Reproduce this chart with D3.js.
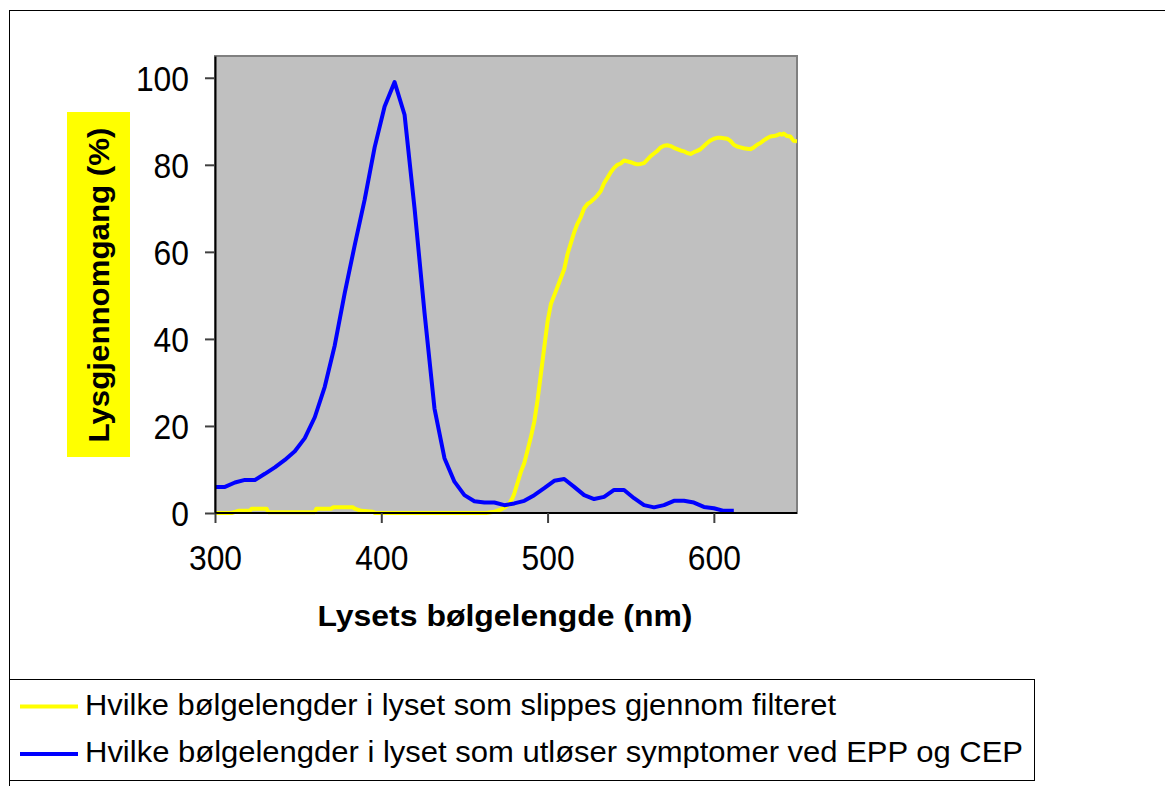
<!DOCTYPE html>
<html>
<head>
<meta charset="utf-8">
<script src="https://cdn.jsdelivr.net/npm/d3@7"></script>
<style>
  body { margin: 0; background: #fff; }
  svg { display: block; font-family: "Liberation Sans", Arial, sans-serif; }
</style>
</head>
<body>
<svg class="chart" width="1165" height="786"></svg>
<script>
// wavelengths (nm) and transmission (%)
const blueWl = [300, 306, 312, 318, 324, 330, 336, 342, 348, 354, 360, 366, 372, 378, 384, 390, 396, 402, 408, 414,
  420, 426, 432, 438, 444, 450, 456, 462, 468, 474, 480, 486, 492, 498, 504, 510, 516, 522, 528, 534,
  540, 546, 552, 558, 564, 570, 576, 582, 588, 594, 600, 606, 612]
const blueVal = [6.0, 6.0, 7.0, 7.6, 7.6, 9.0, 10.5, 12.2, 14.2, 17.2, 22.0, 29.0, 38.5, 50.5, 61.5, 72.0, 84.0, 93.4, 99.0, 91.5,
  70.0, 46.0, 24.0, 12.6, 7.2, 4.1, 2.7, 2.4, 2.4, 1.8, 2.2, 2.8, 4.1, 5.7, 7.4, 7.8, 6.0, 4.1, 3.2, 3.7,
  5.3, 5.3, 3.4, 1.8, 1.3, 1.8, 2.8, 2.8, 2.4, 1.4, 1.1, 0.5, 0.5]

const yellowWl = [300, 310, 314, 321, 322, 331, 332, 360, 361, 370, 371, 383, 384, 388, 395, 396, 463, 468, 472, 475,
  477, 479, 480, 482, 484, 486, 488, 490, 492, 494, 496, 498, 500, 502, 504, 506, 508, 510, 512, 514,
  516, 518, 520, 522, 524, 526, 528, 530, 532, 534, 536, 538, 540, 542, 544, 546, 548, 550, 552, 554,
  556, 558, 560, 562, 564, 566, 568, 570, 572, 574, 576, 578, 580, 582, 584, 586, 588, 590, 592, 594,
  596, 598, 600, 602, 604, 606, 608, 610, 612, 614, 616, 618, 620, 622, 624, 626, 628, 630, 632, 634,
  636, 638, 640, 641, 642, 644, 646, 648, 650]
const yellowVal = [0, 0, 0.5, 0.5, 1.0, 1.0, 0.2, 0.2, 1.0, 1.0, 1.3, 1.3, 1.0, 0.5, 0.3, 0, 0, 0.3, 0.8, 1.5,
  2.2, 3.5, 4.5, 7, 9.5, 11.5, 14.5, 17.5, 21, 26, 32, 38, 44, 48, 50, 52, 54, 56, 59.5, 62,
  64.5, 66.5, 68, 70, 71, 71.5, 72.2, 73, 74, 75.8, 77, 78.3, 79.3, 80, 80.3, 81, 80.8, 80.6, 80.3, 80.1,
  80.2, 80.4, 81.2, 82, 82.6, 83.2, 84, 84.4, 84.5, 84.3, 83.9, 83.6, 83.3, 83.1, 82.7, 82.5, 82.9, 83.2, 83.6, 84.3,
  85, 85.6, 86, 86.2, 86.2, 86.1, 86, 85.5, 84.6, 84.2, 84, 83.8, 83.7, 83.6, 84, 84.6, 85, 85.6, 86.1, 86.5,
  86.6, 86.8, 87.1, 86.9, 87.2, 86.6, 86.5, 85.5, 85.4]

const xTicks = [300, 400, 500, 600]
const yTicks = [0, 20, 40, 60, 80, 100]
const seriesNames = [
  'Hvilke bølgelengder i lyset som slippes gjennom filteret',
  'Hvilke bølgelengder i lyset som utløser symptomer ved EPP og CEP'
]
const seriesColors = ['#ffff00', '#0000ff']

const svg = d3.select('.chart')

// outer chart frame
svg.append('rect')
  .attr('x', 9.5).attr('y', 10.5)
  .attr('width', 1200).attr('height', 800)
  .attr('fill', '#fff').attr('stroke', '#000').attr('stroke-width', 1)

const plot = { left: 215, right: 797, top: 56, bottom: 513 }

const x = d3.scaleLinear().domain([300, 650]).range([plot.left, plot.right])
const y = d3.scaleLinear().domain([0, 105]).range([plot.bottom, plot.top])

svg.append('rect')
  .attr('x', plot.left).attr('y', plot.top)
  .attr('width', plot.right - plot.left).attr('height', plot.bottom - plot.top)
  .attr('fill', '#c0c0c0').attr('stroke', '#808080').attr('stroke-width', 2)

const clip = svg.append('clipPath').attr('id', 'plotclip')
clip.append('rect')
  .attr('x', plot.left).attr('y', plot.top - 5)
  .attr('width', plot.right - plot.left).attr('height', plot.bottom - plot.top + 10)

const line = d3.line().x(d => x(d[0])).y(d => y(d[1]))

const lines = svg.append('g').attr('clip-path', 'url(#plotclip)')
lines.append('path')
  .datum(d3.zip(yellowWl, yellowVal))
  .attr('d', line)
  .attr('fill', 'none').attr('stroke', seriesColors[0]).attr('stroke-width', 4)
  .attr('stroke-linejoin', 'round')
lines.append('path')
  .datum(d3.zip(blueWl, blueVal))
  .attr('d', line)
  .attr('fill', 'none').attr('stroke', seriesColors[1]).attr('stroke-width', 4)
  .attr('stroke-linejoin', 'round')

// axes
const xAxis = svg.append('g')
  .attr('transform', `translate(0,${plot.bottom})`)
  .call(d3.axisBottom(x).tickValues(xTicks).tickSize(10).tickPadding(22).tickSizeOuter(0))
const yAxis = svg.append('g')
  .attr('transform', `translate(${plot.left},0)`)
  .call(d3.axisLeft(y).tickValues(yTicks).tickSize(10).tickPadding(16).tickSizeOuter(0))

;[xAxis, yAxis].forEach(ax => {
  ax.select('.domain').attr('stroke', '#000').attr('stroke-width', 2)
  ax.selectAll('.tick line').attr('stroke', '#404040').attr('stroke-width', 2)
  ax.selectAll('.tick text')
    .attr('fill', '#000')
    .style('font-size', '35px')
    .style('font-family', '"Liberation Sans", Arial, sans-serif')
    .attr('textLength', d => String(d).length * 17.7)
    .attr('lengthAdjust', 'spacingAndGlyphs')
})
xAxis.select('.domain').attr('d', `M${plot.left},0H${plot.right}`)
yAxis.selectAll('.tick text').attr('dy', '0.36em')

// axis titles
svg.append('text')
  .attr('x', 505).attr('y', 626)
  .attr('text-anchor', 'middle')
  .style('font-size', '30px').style('font-weight', 'bold')
  .attr('textLength', 375).attr('lengthAdjust', 'spacingAndGlyphs')
  .text('Lysets bølgelengde (nm)')

svg.append('rect')
  .attr('x', 67).attr('y', 112).attr('width', 63).attr('height', 345)
  .attr('fill', '#ffff00')
svg.append('text')
  .attr('transform', 'translate(109,285) rotate(-90)')
  .attr('text-anchor', 'middle')
  .style('font-size', '29px').style('font-weight', 'bold')
  .attr('textLength', 315).attr('lengthAdjust', 'spacingAndGlyphs')
  .text('Lysgjennomgang (%)')

// legend
svg.append('rect')
  .attr('x', 9.5).attr('y', 679.5).attr('width', 1025).attr('height', 101)
  .attr('fill', '#fff').attr('stroke', '#000').attr('stroke-width', 1)

const legendWidths = [751, 938]
const legend = svg.append('g').selectAll('g')
  .data(seriesNames)
  .enter()
  .append('g')
  .attr('transform', (d, i) => `translate(0,${706.5 + i * 47.5})`)
legend.append('line')
  .attr('x1', 20).attr('x2', 78)
  .attr('stroke', (d, i) => seriesColors[i]).attr('stroke-width', 4)
legend.append('text')
  .attr('x', 85).attr('y', 8)
  .style('font-size', '30px')
  .attr('textLength', (d, i) => legendWidths[i]).attr('lengthAdjust', 'spacingAndGlyphs')
  .text(d => d)
</script>
</body>
</html>
